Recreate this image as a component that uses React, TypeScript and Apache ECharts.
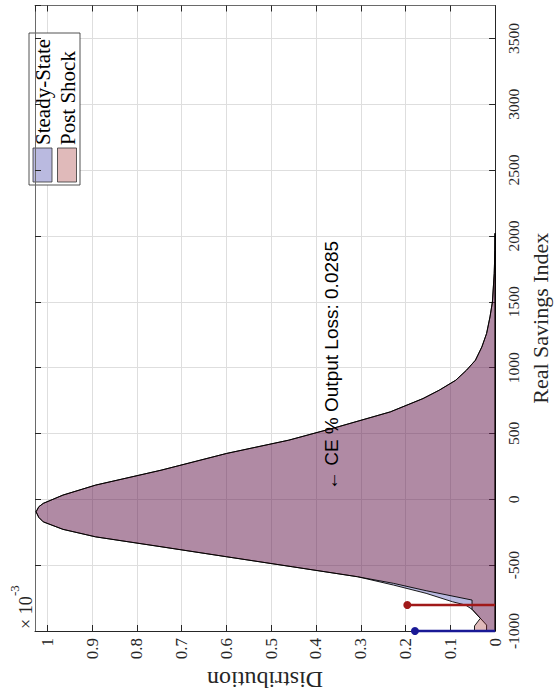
import React, { useEffect, useRef } from "react";
import * as echarts from "echarts";

// Steady-state wealth distribution (density in units of 1e-3) over the savings grid
const steadySavings = [2020, 1891, 1714, 1498, 1385, 1259, 1157, 1056, 980, 904, 829, 765, 664, 550, 449, 348, 221, 108, 32, -31, -57, -95, -137, -171, -228, -285, -360, -436, -512, -588, -651, -714, -778, -803, -835, -955, -1000];
const steadyDensity = [0, 0.0004, 0.002, 0.006, 0.0114, 0.019, 0.0296, 0.044, 0.064, 0.088, 0.1246, 0.161, 0.234, 0.351, 0.461, 0.6, 0.746, 0.892, 0.965, 1.009, 1.019, 1.025, 1.019, 1.009, 0.965, 0.892, 0.746, 0.6, 0.453, 0.307, 0.227, 0.154, 0.095, 0.066, 0.0515, 0.019, 0.019];

// Post-shock distribution
const shockSavings = [2020, 1891, 1714, 1498, 1385, 1259, 1157, 1056, 980, 904, 829, 765, 664, 550, 449, 348, 221, 108, 32, -31, -57, -95, -137, -171, -228, -285, -360, -436, -512, -588, -638, -694, -765, -835, -904, -962, -1000];
const shockDensity = [0, 0.0004, 0.002, 0.006, 0.0114, 0.019, 0.0296, 0.044, 0.064, 0.088, 0.1246, 0.161, 0.234, 0.351, 0.461, 0.6, 0.746, 0.892, 0.965, 1.009, 1.019, 1.025, 1.019, 1.009, 0.965, 0.892, 0.746, 0.6, 0.453, 0.307, 0.227, 0.154, 0.0515, 0.0515, 0.033, 0.046, 0.046];

// Point masses at the borrowing limits: [steady-state, post-shock]
const massSavings = [-1000, -803];
const massDensity = [0.179, 0.196];

const seriesNames = ["Steady-State", "Post Shock"];
const annotation = "\u2190 CE % Output Loss: 0.0285";

const serif = "'Liberation Serif', 'Times New Roman', serif";
const sans = "'Liberation Sans', Arial, Helvetica, sans-serif";
const ink = "#262626";

const blueFill = "rgba(25,25,153,0.3)";
const redFill = "rgba(153,25,25,0.3)";
const blueLine = "rgb(25,25,150)";
const redLine = "rgb(160,25,25)";

function areaSeries(name: string, sav: number[], dens: number[], fill: string, z: number) {
  const poly = [[0, sav[0]], ...sav.map((s, i) => [dens[i], s]), [0, sav[sav.length - 1]]];
  return {
    type: "custom",
    name,
    coordinateSystem: "cartesian2d",
    data: poly,
    encode: { x: 0, y: 1 },
    z,
    silent: true,
    renderItem: (params: any, api: any) => {
      if (params.dataIndex !== 0) return null;
      const points = poly.map((p) => api.coord(p));
      return {
        type: "polygon",
        shape: { points },
        style: { fill, stroke: "#000", lineWidth: 0.9 },
      };
    },
  };
}

function stemSeries(i: number, color: string) {
  return {
    type: "line",
    clip: false,
    z: 10,
    silent: true,
    data: [
      { value: [0, massSavings[i]], symbolSize: 0 },
      { value: [massDensity[i], massSavings[i]], symbolSize: 8 },
    ],
    symbol: "circle",
    showSymbol: true,
    lineStyle: { color, width: 2.6 },
    itemStyle: { color },
  };
}

const distMax = 1.0274;
const savMin = -1000;
const savMax = 3750;

export default function App() {
  const ref = useRef<HTMLDivElement>(null);
  useEffect(() => {
    if (!ref.current) return;
    const chart = echarts.init(ref.current, undefined, { renderer: "svg" });
    const fmtDist = (v: number) => (Math.abs(v) < 1e-9 ? "0" : String(+v.toFixed(1)));
    const baseX = {
      type: "value",
      inverse: true,
      min: 0,
      max: distMax,
      interval: 0.1,
    };
    const baseY = {
      type: "value",
      min: savMin,
      max: savMax,
      interval: 500,
    };
    chart.setOption({
      animation: false,
      grid: { left: 35, right: 55.5, top: 5.5, bottom: 69, containLabel: false },
      xAxis: [
        {
          ...baseX,
          position: "bottom",
          axisLine: { show: true, onZero: false, lineStyle: { color: ink, width: 1 } },
          axisTick: { show: true, inside: true, length: 6, lineStyle: { color: ink } },
          axisLabel: {
            rotate: 90,
            margin: 7,
            fontFamily: serif,
            fontSize: 17,
            color: ink,
            showMaxLabel: false,
            formatter: fmtDist,
          },
          splitLine: { show: true, lineStyle: { color: "#dedede", width: 1 } },
          name: "Distribution",
          nameLocation: "middle",
          nameRotate: 180,
          nameGap: 37,
          nameTextStyle: { fontFamily: serif, fontSize: 24, color: ink },
        },
        {
          ...baseX,
          position: "top",
          axisLine: { show: true, onZero: false, lineStyle: { color: "#6a6a6a", width: 1 } },
          axisTick: { show: true, inside: true, length: 6, lineStyle: { color: ink } },
          axisLabel: { show: false },
          splitLine: { show: false },
        },
      ],
      yAxis: [
        {
          ...baseY,
          position: "right",
          axisLine: { show: true, onZero: false, lineStyle: { color: ink, width: 1 } },
          axisTick: { show: true, inside: true, length: 6, lineStyle: { color: ink } },
          axisLabel: {
            rotate: 90,
            margin: 10,
            fontFamily: serif,
            fontSize: 15.5,
            color: ink,
            showMaxLabel: false,
            formatter: (v: number) => String(v),
          },
          splitLine: { show: true, lineStyle: { color: "#dedede", width: 1 } },
          name: "Real Savings Index",
          nameLocation: "middle",
          nameGap: 26,
          nameTextStyle: { fontFamily: serif, fontSize: 22, color: ink },
        },
        {
          ...baseY,
          position: "left",
          axisLine: { show: true, onZero: false, lineStyle: { color: "#6a6a6a", width: 1 } },
          axisTick: { show: true, inside: true, length: 6, lineStyle: { color: ink } },
          axisLabel: { show: false },
          splitLine: { show: false },
        },
      ],
      series: [
        areaSeries(seriesNames[0], steadySavings, steadyDensity, blueFill, 2),
        areaSeries(seriesNames[1], shockSavings, shockDensity, redFill, 3),
        stemSeries(0, blueLine),
        stemSeries(1, redLine),
      ],
    });

    // Annotation anchored in data coordinates, legend and axis exponent as overlays
    const at = chart.convertToPixel({ gridIndex: 0 }, [0.365, 70]) as number[];
    const corner = chart.convertToPixel({ gridIndex: 0 }, [distMax, savMin]) as number[];
    const rot = Math.PI / 2;
    chart.setOption({
      graphic: [
        {
          type: "text",
          x: at[0],
          y: at[1],
          rotation: rot,
          z: 20,
          style: { text: annotation, font: `19px ${sans}`, fill: "#000", align: "left", verticalAlign: "middle" },
        },
        {
          type: "text",
          x: corner[0] - 9,
          y: corner[1] - 2,
          rotation: rot,
          style: { text: "\u00d7 10", font: `18px ${serif}`, fill: ink, align: "left", verticalAlign: "middle" },
        },
        {
          type: "text",
          x: corner[0] - 21,
          y: corner[1] - 35,
          rotation: rot,
          style: { text: "-3", font: `13px ${serif}`, fill: ink, align: "left", verticalAlign: "middle" },
        },
        {
          type: "group",
          z: 30,
          children: [
            { type: "rect", shape: { x: 29, y: 33, width: 51, height: 152 }, style: { fill: "#fff", stroke: ink, lineWidth: 0.8 } },
            { type: "rect", shape: { x: 33, y: 148, width: 19, height: 34 }, style: { fill: blueFill, stroke: "#333", lineWidth: 0.8 } },
            { type: "rect", shape: { x: 57.5, y: 148, width: 19, height: 34 }, style: { fill: redFill, stroke: "#333", lineWidth: 0.8 } },
            {
              type: "text", x: 43, y: 145, rotation: rot,
              style: { text: seriesNames[0], font: `21px ${serif}`, fill: "#000", align: "left", verticalAlign: "middle" },
            },
            {
              type: "text", x: 67.5, y: 145, rotation: rot,
              style: { text: seriesNames[1], font: `21px ${serif}`, fill: "#000", align: "left", verticalAlign: "middle" },
            },
          ],
        },
      ],
    });
    return () => chart.dispose();
  }, []);
  return (
    <div
      ref={ref}
      style={{ position: "fixed", left: 0, top: 0, width: 559, height: 700, background: "#fff" }}
    />
  );
}
